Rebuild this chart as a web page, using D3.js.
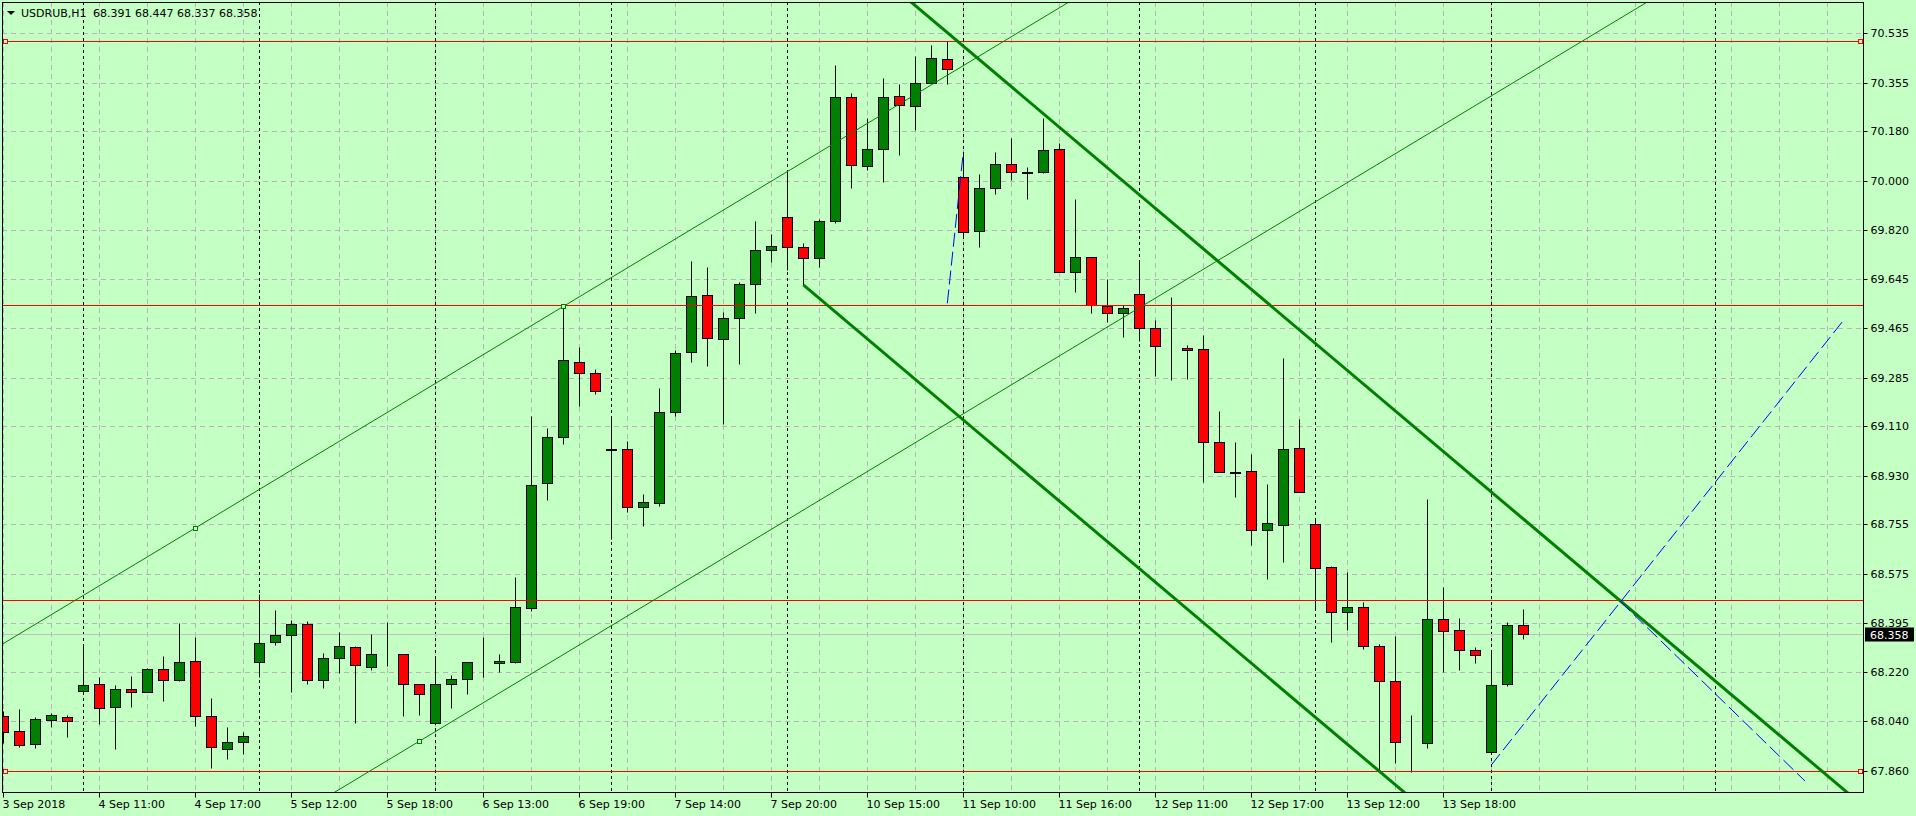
<!DOCTYPE html>
<html>
<head>
<meta charset="utf-8">
<script src="https://cdn.jsdelivr.net/npm/d3@7/dist/d3.min.js"></script>
<style>
  html, body { margin: 0; padding: 0; background: #c4ffc4; }
  svg { display: block; font-family: "DejaVu Sans", Verdana, sans-serif; font-size: 11px; }
</style>
</head>
<body>
<svg id="chart" width="1916" height="816"></svg>
<script>
const symbol = 'USDRUB,H1';

// H1 bars, index 0 = 3 Sep 2018 16:00 ... 95 = 14 Sep 12:00
const opens = [68.059, 68.005, 67.957, 68.044, 68.056, 68.149, 68.174, 68.091, 68.156, 68.145,
  68.229, 68.189, 68.258, 68.058, 67.941, 67.966, 68.254, 68.327, 68.352, 68.392,
  68.189, 68.269, 68.308, 68.236, 68.282, 68.283, 68.175, 68.035, 68.174, 68.192,
  68.256, 68.250, 68.256, 68.452, 68.903, 69.070, 69.341, 69.302, 69.027, 69.026,
  68.816, 68.830, 69.160, 69.378, 69.584, 69.425, 69.501, 69.624, 69.747, 69.867,
  69.758, 69.718, 69.853, 70.302, 70.052, 70.113, 70.306, 70.269, 70.353, 70.440,
  70.012, 69.816, 69.972, 70.059, 70.030, 70.030, 70.113, 69.668, 69.722, 69.544,
  69.519, 69.588, 69.465, 69.398, 69.392, 69.389, 69.054, 68.944, 68.946, 68.735,
  68.753, 69.030, 68.754, 68.598, 68.435, 68.453, 68.312, 68.185, 67.962, 67.961,
  68.412, 68.370, 68.298, 67.928, 68.174, 68.391];
const highs = [68.078, 68.085, 68.057, 68.069, 68.063, 68.320, 68.201, 68.171, 68.203, 68.232,
  68.277, 68.397, 68.346, 68.125, 68.020, 68.000, 68.502, 68.444, 68.406, 68.403,
  68.287, 68.363, 68.312, 68.357, 68.399, 68.283, 68.176, 68.274, 68.208, 68.254,
  68.345, 68.283, 68.565, 69.146, 69.103, 69.544, 69.397, 69.317, 69.146, 69.056,
  68.864, 69.248, 69.386, 69.709, 69.687, 69.523, 69.631, 69.854, 69.805, 70.035,
  69.774, 69.860, 70.419, 70.316, 70.227, 70.372, 70.350, 70.452, 70.491, 70.505,
  70.099, 70.025, 70.103, 70.153, 70.048, 70.226, 70.135, 69.933, 69.722, 69.643,
  69.548, 69.711, 69.494, 69.577, 69.403, 69.439, 69.164, 69.051, 69.009, 68.900,
  69.358, 69.136, 68.776, 68.602, 68.580, 68.472, 68.319, 68.348, 68.062, 68.845,
  68.526, 68.414, 68.308, 68.298, 68.399, 68.447];
const lows = [67.963, 67.948, 67.945, 68.021, 67.984, 68.147, 68.032, 67.941, 68.093, 68.145,
  68.115, 68.185, 68.024, 67.872, 67.905, 67.923, 68.202, 68.318, 68.147, 68.176,
  68.162, 68.216, 68.035, 68.225, 68.242, 68.061, 68.063, 68.035, 68.090, 68.139,
  68.202, 68.220, 68.250, 68.440, 68.843, 69.046, 69.183, 69.227, 68.702, 68.800,
  68.749, 68.822, 69.148, 69.344, 69.329, 69.119, 69.336, 69.519, 69.706, 69.676,
  69.622, 69.688, 69.847, 69.974, 70.040, 69.996, 70.094, 70.185, 70.353, 70.349,
  69.791, 69.758, 69.953, 70.001, 69.934, 70.027, 69.668, 69.595, 69.521, 69.489,
  69.434, 69.420, 69.293, 69.278, 69.282, 68.909, 68.943, 68.854, 68.680, 68.557,
  68.619, 68.870, 68.444, 68.327, 68.372, 68.301, 67.858, 67.888, 67.855, 67.943,
  68.220, 68.227, 68.253, 67.921, 68.169, 68.337];
const closes = [68.002, 67.955, 68.048, 68.062, 68.040, 68.171, 68.087, 68.156, 68.145, 68.229,
  68.189, 68.254, 68.058, 67.946, 67.966, 67.986, 68.323, 68.352, 68.392, 68.189,
  68.269, 68.312, 68.243, 68.283, 68.280, 68.174, 68.138, 68.175, 68.192, 68.254,
  68.254, 68.259, 68.455, 68.895, 69.070, 69.349, 69.302, 69.236, 69.025, 68.816,
  68.834, 69.160, 69.374, 69.582, 69.428, 69.501, 69.624, 69.747, 69.762, 69.758,
  69.718, 69.853, 70.302, 70.056, 70.113, 70.302, 70.273, 70.353, 70.443, 70.403,
  69.813, 69.972, 70.059, 70.030, 70.028, 70.110, 69.668, 69.722, 69.548, 69.519,
  69.537, 69.465, 69.399, 69.396, 69.385, 69.054, 68.943, 68.942, 68.735, 68.758,
  69.026, 68.870, 68.597, 68.435, 68.453, 68.312, 68.185, 67.964, 67.960, 68.412,
  68.366, 68.298, 68.280, 68.173, 68.388, 68.358];

const priceTicks = [70.535, 70.355, 70.180, 70.000, 69.820, 69.645, 69.465, 69.285,
  69.110, 68.930, 68.755, 68.575, 68.395, 68.220, 68.040, 67.860];
const timeTickBars = [0, 6, 12, 18, 24, 30, 36, 42, 48, 54, 60, 66, 72, 78, 84, 90];
const timeTickLabels = ['3 Sep 2018', '4 Sep 11:00', '4 Sep 17:00', '5 Sep 12:00', '5 Sep 18:00',
  '6 Sep 13:00', '6 Sep 19:00', '7 Sep 14:00', '7 Sep 20:00', '10 Sep 15:00', '11 Sep 10:00',
  '11 Sep 16:00', '12 Sep 11:00', '12 Sep 17:00', '13 Sep 12:00', '13 Sep 18:00'];
const dayStartBars = [5, 16, 27, 38, 49, 60, 71, 82, 93, 107]; // period separators

// objects drawn on the chart: [bar, price] anchors
const horizontalLevels = [70.505, 69.548, 68.480, 67.859];
const markedLevels = [70.505, 67.859];
const channelUpper = [[12, 68.741], [35, 69.544]];
const channelLower = [[26, 67.968], [49, 68.771]];
const trendUpper = [[50, 70.977], [110, 68.039]];
const trendLower = [[50, 69.622], [110, 66.684]]; // ray from bar 50
const blueShort = [[59, 69.555], [60, 70.105]];
const blueRise = [[93, 67.882], [115, 69.493]];
const blueFall = [[101.04, 68.476], [112.6, 67.824]];
const anchorMarks = [[12, 68.741], [35, 69.544], [26, 67.968]];

const bg = '#c4ffc4';
const gridColor = '#bcb2bc';
const bull = '#008000';
const bear = '#ff0000';

const plotLeft = 2, plotRight = 1863, plotTop = 2, plotBottom = 792;
const x = d3.scaleLinear().domain([-0.083, 116.229]).range([plotLeft, plotRight]);
const y = d3.scaleLinear().domain([67.784, 70.6474]).range([plotBottom, plotTop]);
const cx = k => Math.floor(x(k)) + 0.5;
const cy = p => Math.round(y(p)) + 0.5;

const svg = d3.select('#chart');
svg.append('rect').attr('width', 1916).attr('height', 816).attr('fill', bg);

svg.append('clipPath').attr('id', 'plot-clip')
  .append('rect').attr('x', plotLeft).attr('y', plotTop)
  .attr('width', plotRight - plotLeft).attr('height', plotBottom - plotTop);

const plot = svg.append('g').attr('clip-path', 'url(#plot-clip)');

// grid
plot.append('g').selectAll('line').data(priceTicks).join('line')
  .attr('x1', plotLeft).attr('x2', plotRight)
  .attr('y1', d => cy(d)).attr('y2', d => cy(d))
  .attr('stroke', gridColor).attr('stroke-dasharray', '5,4');

plot.append('g').selectAll('line').data(d3.range(0, 117, 3)).join('line')
  .attr('x1', d => cx(d)).attr('x2', d => cx(d))
  .attr('y1', plotTop).attr('y2', plotBottom)
  .attr('stroke', gridColor).attr('stroke-dasharray', '5,4');

plot.append('g').selectAll('line').data(dayStartBars).join('line')
  .attr('x1', d => cx(d)).attr('x2', d => cx(d))
  .attr('y1', plotTop).attr('y2', plotBottom)
  .attr('stroke', '#000').attr('stroke-dasharray', '3,3');

// bid line
const lastClose = closes[closes.length - 1];
plot.append('line')
  .attr('x1', plotLeft).attr('x2', plotRight)
  .attr('y1', cy(lastClose)).attr('y2', cy(lastClose))
  .attr('stroke', '#c0c0c0');

// candles
const bars = d3.range(opens.length).map(i => ({ i, o: opens[i], h: highs[i], l: lows[i], c: closes[i] }));
const candle = plot.append('g').selectAll('g').data(bars).join('g');

candle.append('line')
  .attr('x1', d => cx(d.i)).attr('x2', d => cx(d.i))
  .attr('y1', d => cy(d.h)).attr('y2', d => cy(d.l))
  .attr('stroke', '#000');

candle.append('rect')
  .attr('x', d => cx(d.i) - 5)
  .attr('width', 10)
  .attr('y', d => cy(Math.max(d.o, d.c)))
  .attr('height', d => cy(Math.min(d.o, d.c)) - cy(Math.max(d.o, d.c)))
  .attr('fill', d => d.c >= d.o ? bull : bear)
  .attr('stroke', '#000');

// chart objects
function linePath(pts, fromFirst) {
  const [[k1, p1], [k2, p2]] = pts;
  const slope = (p2 - p1) / (k2 - k1);
  const a = fromFirst ? k1 : -2;
  const b = 120;
  return [[x(a), y(p1 + slope * (a - k1))], [x(b), y(p1 + slope * (b - k1))]];
}

plot.append('g').selectAll('line').data(horizontalLevels).join('line')
  .attr('x1', plotLeft).attr('x2', plotRight)
  .attr('y1', d => cy(d)).attr('y2', d => cy(d))
  .attr('stroke', '#ff0000');

const objects = [
  { pts: linePath(channelUpper, false), color: bull, width: 1 },
  { pts: linePath(channelLower, false), color: bull, width: 1 },
  { pts: linePath(trendUpper, false), color: bull, width: 3 },
  { pts: linePath(trendLower, true), color: bull, width: 3 },
  { pts: blueShort.map(d => [x(d[0]), y(d[1])]), color: '#0000ff', width: 1, dash: '14,5' },
  { pts: blueRise.map(d => [x(d[0]), y(d[1])]), color: '#0000ff', width: 1, dash: '14,5' },
  { pts: blueFall.map(d => [x(d[0]), y(d[1])]), color: '#0000ff', width: 1, dash: '14,5' }
];

plot.append('g').selectAll('path').data(objects).join('path')
  .attr('d', d => d3.line()(d.pts))
  .attr('fill', 'none')
  .attr('stroke', d => d.color)
  .attr('stroke-width', d => d.width)
  .attr('stroke-dasharray', d => d.dash || null);

plot.append('g').selectAll('rect').data(anchorMarks).join('rect')
  .attr('x', d => cx(d[0]) - 2).attr('y', d => cy(d[1]) - 2)
  .attr('width', 4).attr('height', 4)
  .attr('fill', bg).attr('stroke', bull);

const levelMarks = markedLevels.flatMap(p => [[plotLeft + 3.5, p], [plotRight - 2.5, p]]);
plot.append('g').selectAll('rect').data(levelMarks).join('rect')
  .attr('x', d => d[0] - 2).attr('y', d => cy(d[1]) - 2)
  .attr('width', 4).attr('height', 4)
  .attr('fill', bg).attr('stroke', '#ff0000');

// frame
svg.append('rect')
  .attr('x', plotLeft + 0.5).attr('y', plotTop + 0.5)
  .attr('width', plotRight - plotLeft).attr('height', plotBottom - plotTop)
  .attr('fill', 'none').attr('stroke', '#000');

// price axis
const yAxis = svg.append('g')
  .attr('transform', `translate(${plotRight + 0.5},0)`)
  .call(d3.axisRight(y).tickValues(priceTicks).tickSize(4).tickPadding(3).tickFormat(d3.format('.3f')));
yAxis.select('.domain').remove();
yAxis.selectAll('.tick').attr('transform', d => `translate(0,${cy(d)})`);
yAxis.selectAll('text').attr('fill', '#000').style('font-size', '11px')
  .style('font-family', '"DejaVu Sans", Verdana, sans-serif');

// time axis
const xAxis = svg.append('g')
  .attr('transform', `translate(0,${plotBottom + 0.5})`)
  .call(d3.axisBottom(x).tickValues(timeTickBars).tickSize(5).tickPadding(3)
    .tickFormat((d, i) => timeTickLabels[i]));
xAxis.select('.domain').remove();
xAxis.selectAll('.tick').attr('transform', d => `translate(${cx(d)},0)`);
xAxis.selectAll('text').attr('text-anchor', 'start').attr('x', -1).attr('fill', '#000')
  .style('font-size', '11px').style('font-family', '"DejaVu Sans", Verdana, sans-serif');

// current price label
const bidY = cy(lastClose);
svg.append('rect').attr('x', plotRight + 2).attr('y', bidY - 7).attr('width', 49).attr('height', 14).attr('fill', '#000');
svg.append('text').attr('x', plotRight + 7).attr('y', bidY + 4).attr('fill', '#fff').text(lastClose.toFixed(3));

// title
svg.append('path').attr('d', 'M7,11 L15,11 L11,15 Z').attr('fill', '#000');
svg.append('text').attr('x', 21).attr('y', 17).attr('fill', '#000').text(symbol);
const last = bars[bars.length - 1];
svg.append('text').attr('x', 93).attr('y', 17).attr('fill', '#000')
  .text([last.o, last.h, last.l, last.c].map(v => v.toFixed(3)).join(' '));
</script>
</body>
</html>
